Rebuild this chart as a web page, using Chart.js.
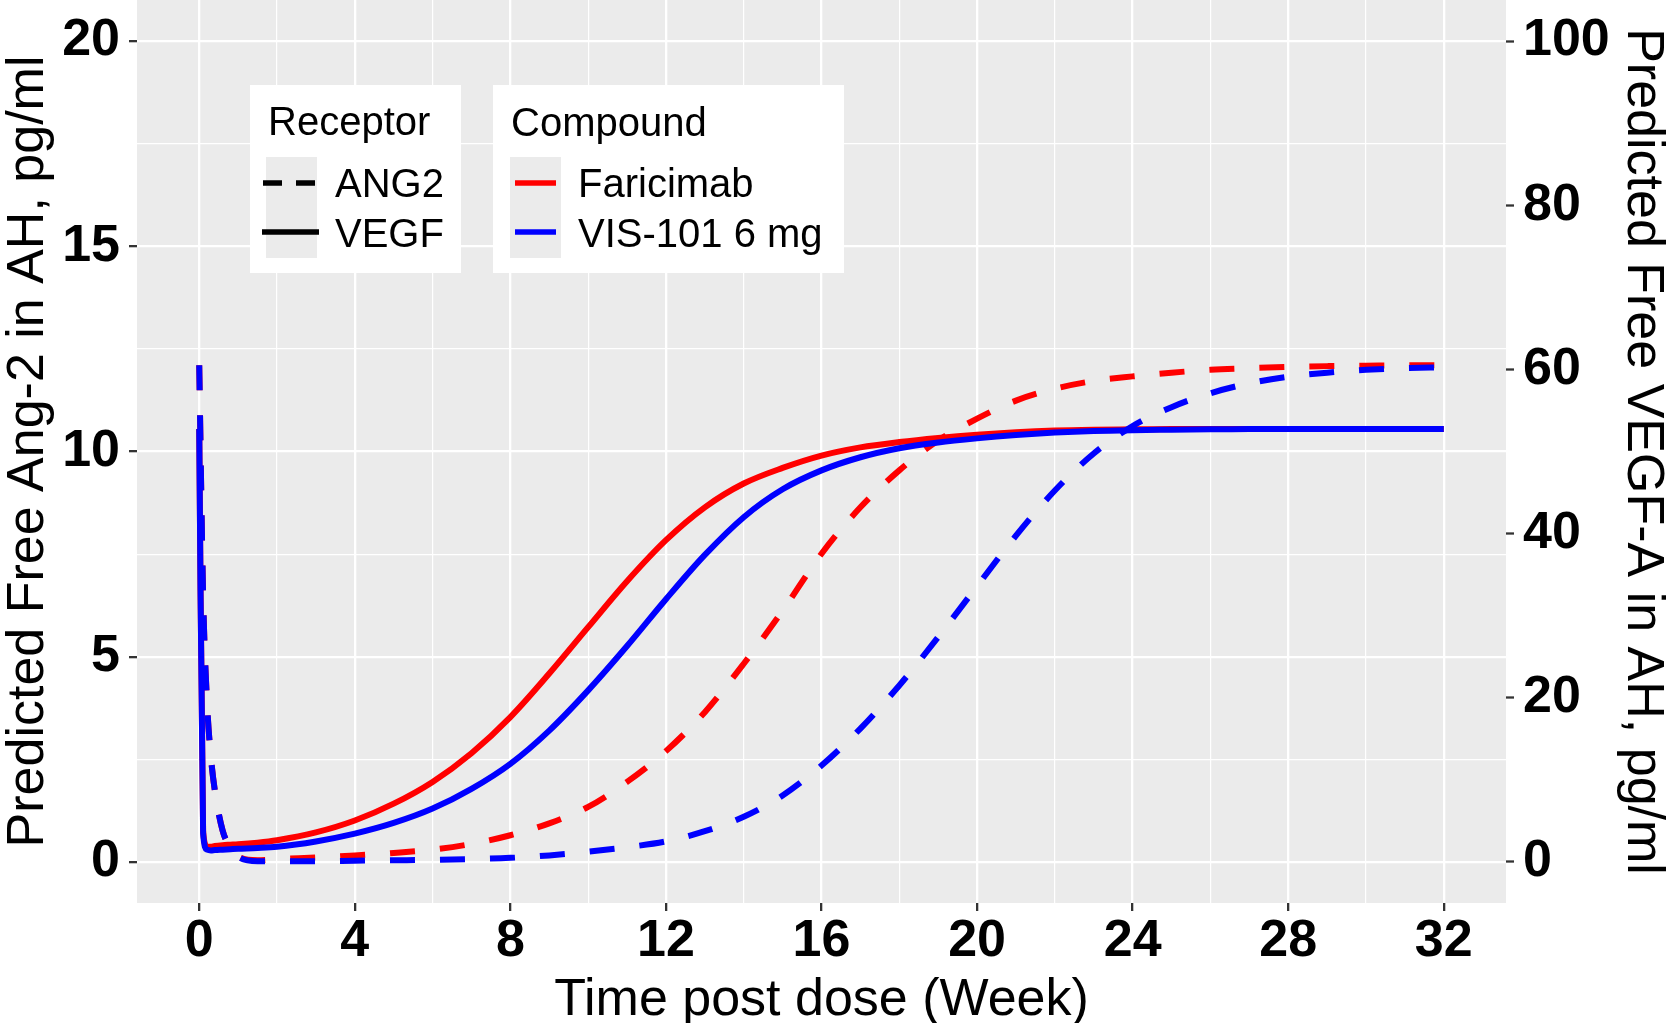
<!DOCTYPE html>
<html>
<head>
<meta charset="utf-8">
<title>Predicted free Ang-2 and VEGF-A</title>
<script src="https://cdn.jsdelivr.net/npm/chart.js@4.4.1/dist/chart.umd.min.js"></script>
<style>
  html, body { margin: 0; padding: 0; background: #fff; }
  #wrap { width: 1668px; height: 1023px; position: relative; }
</style>
</head>
<body>
<div id="wrap"><canvas id="chart"></canvas></div>
<script>
// time points (weeks post dose)
const weeks = [0, 0.1, 0.2, 0.3, 0.4, 0.6, 0.8, 1, 1.5,
  2, 3, 4, 5, 6, 7, 8, 9, 10, 11, 12, 13, 14, 15, 16, 17,
  18, 19, 20, 21, 22, 23, 24, 25, 26, 27, 28, 29, 30, 31, 32];

// free Ang-2 in AH, pg/ml (left axis)
const faricimabAng2 = [12.1, 6.5, 3.9, 2.56, 1.75, 0.77, 0.35, 0.13, 0.04,
  0.07, 0.11, 0.16, 0.22, 0.3, 0.44, 0.65, 0.94, 1.34, 1.95, 2.7, 3.65, 4.83, 6.12, 7.51, 8.64,
  9.54, 10.27, 10.8, 11.24, 11.53, 11.72, 11.83, 11.92, 11.99, 12.03, 12.06, 12.08, 12.09, 12.1, 12.1];
const vis101Ang2 = [12.1, 6.5, 3.9, 2.56, 1.75, 0.77, 0.35, 0.13, 0.02,
  0.02, 0.02, 0.03, 0.04, 0.05, 0.07, 0.1, 0.16, 0.25, 0.36, 0.5, 0.75, 1.1, 1.62, 2.35, 3.25,
  4.3, 5.48, 6.72, 7.95, 9.05, 9.95, 10.62, 11.08, 11.42, 11.66, 11.82, 11.92, 11.99, 12.03, 12.05];

// free VEGF-A in AH, pg/ml (right axis)
const faricimabVegf = [52.75, 3.75, 1.9, 1.85, 1.95, 2.05, 2.1, 2.15, 2.35,
  2.65, 3.6, 5.05, 7.1, 9.75, 13.25, 17.65, 22.95, 28.6, 34.2, 39.2, 43.2, 46.1, 48.0, 49.5, 50.5,
  51.15, 51.65, 52.05, 52.35, 52.55, 52.65, 52.7, 52.75, 52.75, 52.75, 52.75, 52.75, 52.75, 52.75, 52.75];
const vis101Vegf = [52.75, 3.5, 1.5, 1.4, 1.45, 1.5, 1.55, 1.6, 1.7,
  1.85, 2.5, 3.45, 4.75, 6.5, 8.9, 11.95, 16.0, 20.9, 26.3, 32.0, 37.4, 42.0, 45.4, 47.7, 49.3,
  50.4, 51.1, 51.6, 52.0, 52.3, 52.5, 52.6, 52.65, 52.7, 52.75, 52.75, 52.75, 52.75, 52.75, 52.75];

// axis breaks
const weekTicks = [0, 2, 4, 6, 8, 10, 12, 14, 16, 18, 20, 22, 24, 26, 28, 30, 32];
const ang2Ticks = [0, 2.5, 5, 7.5, 10, 12.5, 15, 17.5, 20];
const vegfTicks = [0, 20, 40, 60, 80, 100];

// legend entries
const receptorLabels = ["ANG2", "VEGF"];
const compoundLabels = ["Faricimab", "VIS-101 6 mg"];

const RED = "#FF0000";
const BLUE = "#0000FF";
const FONT = '"Liberation Sans", Arial, Helvetica, sans-serif';

function pts(ys) {
  return weeks.map((w, i) => ({ x: w, y: ys[i] }));
}

// grey panel behind the grid
const panelBg = {
  id: "panelBg",
  beforeDraw(chart) {
    const a = chart.chartArea;
    const ctx = chart.ctx;
    ctx.save();
    ctx.fillStyle = "#EBEBEB";
    ctx.fillRect(a.left, a.top, a.right - a.left, a.bottom - a.top);
    ctx.restore();
  }
};

// two ggplot-style legend boxes
const legendBoxes = {
  id: "legendBoxes",
  afterDatasetsDraw(chart) {
    const ctx = chart.ctx;
    ctx.save();
    ctx.fillStyle = "#FFFFFF";
    ctx.fillRect(250, 85, 211, 188);
    ctx.fillRect(493, 85, 351, 188);
    ctx.fillStyle = "#EBEBEB";
    ctx.fillRect(266, 157, 51, 101);
    ctx.fillRect(510, 157, 51, 101);

    ctx.fillStyle = "#000";
    ctx.font = "40px " + FONT;
    ctx.textBaseline = "alphabetic";
    ctx.fillText("Receptor", 268, 135);
    ctx.fillText(receptorLabels[0], 335, 197);
    ctx.fillText(receptorLabels[1], 335, 247);
    ctx.fillText("Compound", 511, 136);
    ctx.fillText(compoundLabels[0], 578, 197);
    ctx.fillText(compoundLabels[1], 578, 247);

    ctx.lineWidth = 5.5;
    ctx.lineCap = "butt";
    ctx.strokeStyle = "#000";
    ctx.setLineDash([19, 14]);
    ctx.beginPath(); ctx.moveTo(263, 183); ctx.lineTo(315, 183); ctx.stroke();
    ctx.setLineDash([]);
    ctx.beginPath(); ctx.moveTo(262, 232); ctx.lineTo(319, 232); ctx.stroke();

    ctx.strokeStyle = RED;
    ctx.beginPath(); ctx.moveTo(515, 183); ctx.lineTo(556, 183); ctx.stroke();
    ctx.strokeStyle = BLUE;
    ctx.beginPath(); ctx.moveTo(515, 232); ctx.lineTo(556, 232); ctx.stroke();
    ctx.restore();
  }
};

const tickFont = { family: FONT, size: 52, weight: "bold", lineHeight: 1 };
const titleFont = { family: FONT, size: 52, lineHeight: 1 };

function line(label, data, color, dashed, axis) {
  return {
    label: label,
    data: data,
    yAxisID: axis,
    borderColor: color,
    borderWidth: 6,
    borderDash: dashed ? [25, 25] : [],
    pointRadius: 0,
    cubicInterpolationMode: "monotone",
    fill: false
  };
}

new Chart(document.getElementById("chart"), {
  type: "line",
  data: {
    datasets: [
      // first listed is drawn on top
      line("VIS-101 6 mg ANG2", pts(vis101Ang2), BLUE, true, "y"),
      line("VIS-101 6 mg VEGF", pts(vis101Vegf), BLUE, false, "y2"),
      line("Faricimab ANG2", pts(faricimabAng2), RED, true, "y"),
      line("Faricimab VEGF", pts(faricimabVegf), RED, false, "y2")
    ]
  },
  options: {
    responsive: true,
    maintainAspectRatio: false,
    animation: false,
    layout: { padding: 0 },
    plugins: {
      legend: { display: false },
      tooltip: { enabled: false }
    },
    scales: {
      x: {
        type: "linear",
        min: -1.6,
        max: 33.6,
        afterBuildTicks: s => { s.ticks = weekTicks.map(v => ({ value: v })); },
        afterFit: s => { s.height = 120; s.paddingLeft = 0; s.paddingRight = 0; },
        ticks: {
          autoSkip: false,
          maxRotation: 0,
          padding: 5,
          color: "#000",
          font: tickFont,
          callback: v => (v % 4 === 0 ? String(v) : "")
        },
        grid: {
          color: "#FFFFFF",
          lineWidth: c => (c.tick && c.tick.value % 4 === 0 ? 2.3 : 1.2),
          tickColor: c => (c.tick && c.tick.value % 4 === 0 ? "#333333" : "rgba(0,0,0,0)"),
          tickWidth: 2.3,
          tickLength: 8
        },
        border: { display: false },
        title: {
          display: true,
          text: "Time post dose (Week)",
          color: "#000",
          font: { family: FONT, size: 52, lineHeight: 0.85 },
          padding: 0
        }
      },
      y: {
        position: "left",
        min: -1,
        max: 21,
        afterBuildTicks: s => { s.ticks = ang2Ticks.map(v => ({ value: v })); },
        afterFit: s => { s.width = 137; s.paddingTop = 0; s.paddingBottom = 0; },
        ticks: {
          padding: 9,
          color: "#000",
          font: tickFont,
          callback: v => (v % 5 === 0 ? String(v) : "")
        },
        grid: {
          color: "#FFFFFF",
          lineWidth: c => (c.tick && c.tick.value % 5 === 0 ? 2.3 : 1.2),
          tickColor: c => (c.tick && c.tick.value % 5 === 0 ? "#333333" : "rgba(0,0,0,0)"),
          tickWidth: 2.3,
          tickLength: 8
        },
        border: { display: false },
        title: {
          display: true,
          text: "Predicted Free Ang-2 in AH, pg/ml",
          color: "#000",
          font: titleFont,
          padding: { top: 3, bottom: 0 }
        }
      },
      y2: {
        position: "right",
        min: -5,
        max: 105,
        afterBuildTicks: s => { s.ticks = vegfTicks.map(v => ({ value: v })); },
        afterFit: s => { s.width = 162; s.paddingTop = 0; s.paddingBottom = 0; },
        ticks: {
          padding: 9,
          color: "#000",
          font: tickFont,
          callback: v => String(v)
        },
        grid: {
          drawOnChartArea: false,
          tickColor: "#333333",
          tickWidth: 2.3,
          tickLength: 8
        },
        border: { display: false },
        title: {
          display: true,
          text: "Predicted Free VEGF-A in AH, pg/ml",
          color: "#000",
          font: titleFont,
          padding: { top: 0, bottom: 0 }
        }
      }
    }
  },
  plugins: [panelBg, legendBoxes]
});
</script>
</body>
</html>
